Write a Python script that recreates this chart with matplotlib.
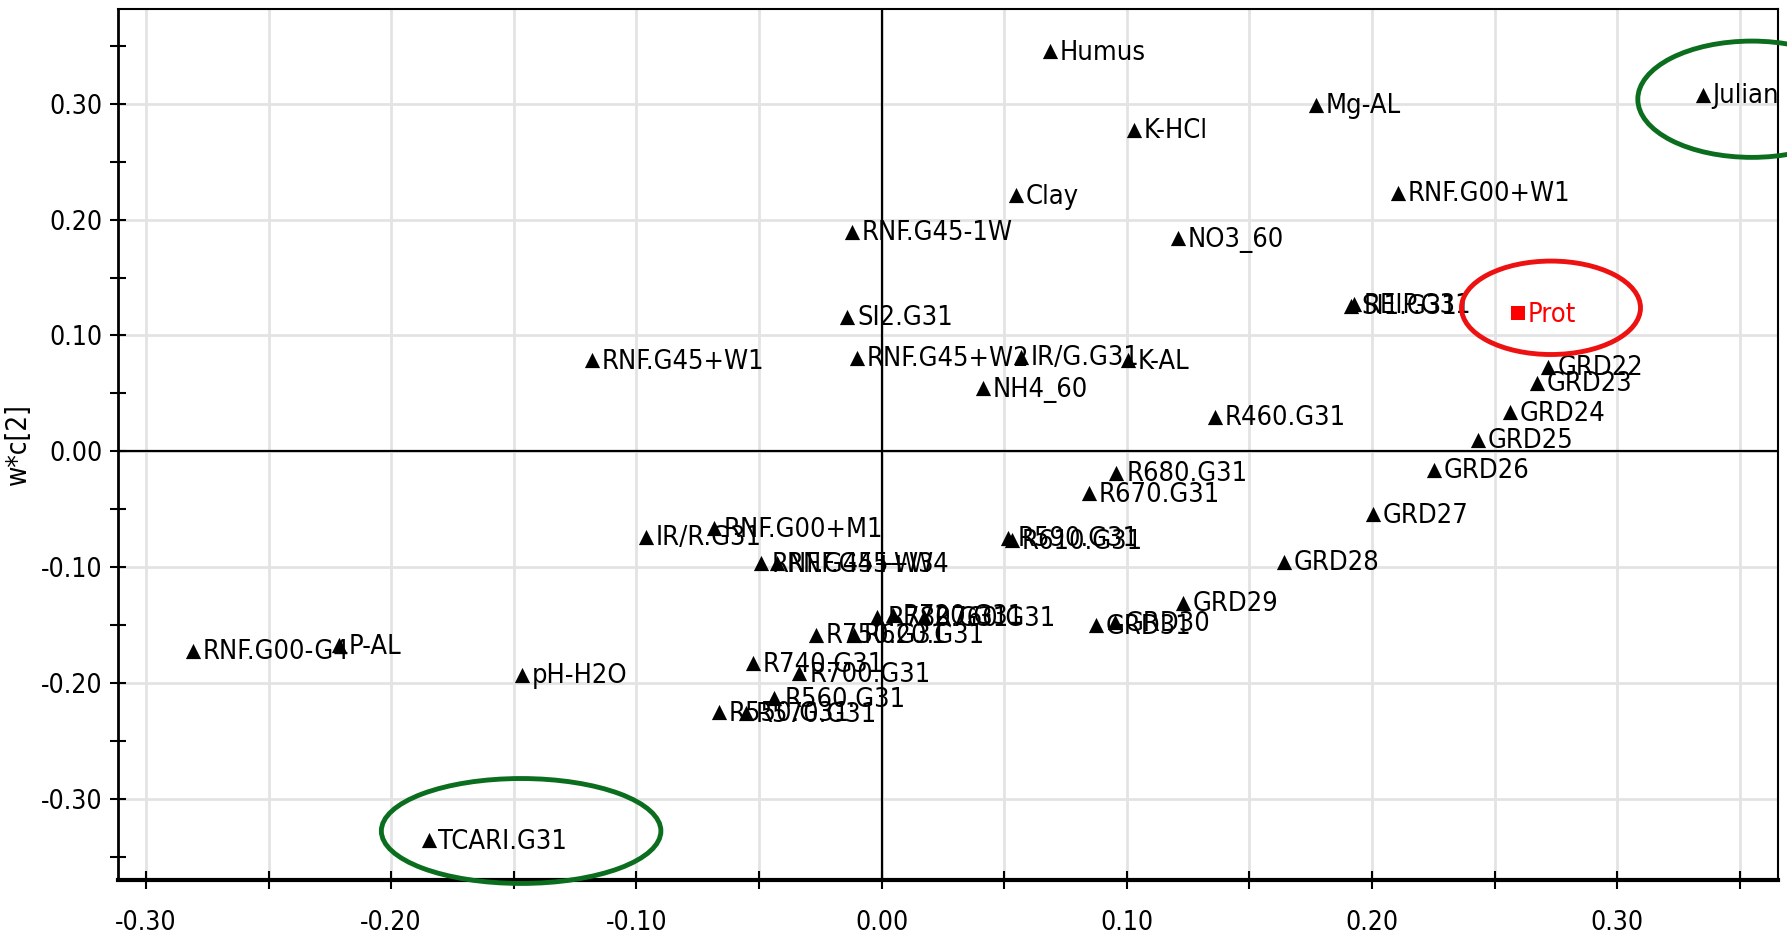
import matplotlib
matplotlib.use("Agg")
import matplotlib.pyplot as plt
from matplotlib.patches import Ellipse
from matplotlib.ticker import MultipleLocator, FormatStrFormatter
from matplotlib import font_manager
from matplotlib.font_manager import FontProperties

# ---------------- data ----------------
labels = [
    "Humus", "Mg-AL", "K-HCl", "Julian", "Clay", "RNF.G00+W1", "RNF.G45-1W",
    "NO3_60", "SI2.G31", "SI1.G31", "REIP.G31", "RNF.G45+W1", "RNF.G45+W2",
    "IR/G.G31", "K-AL", "NH4_60", "R460.G31", "GRD22", "GRD23", "GRD24",
    "GRD25", "GRD26", "R680.G31", "R670.G31", "GRD27", "R590.G31", "R610.G31",
    "GRD28", "GRD29", "GRD31", "GRD30", "IR/R.G31", "RNF.G00+M1",
    "RNF.G45+W3", "RNF.G45+W4", "R780.G31", "R720.G31", "R760.G31",
    "R750.G31", "R620.G31", "R740.G31", "R700.G31", "R560.G31", "R550.G31",
    "R570.G31", "pH-H2O", "P-AL", "RNF.G00-G4", "TCARI.G31",
]
x_vals = [
    0.0688, 0.1772, 0.1028, 0.3349, 0.0549, 0.2107, -0.0119,
    0.1207, -0.0139, 0.1915, 0.1925, -0.1181, -0.0102,
    0.0570, 0.1005, 0.0412, 0.1358, 0.2717, 0.2673, 0.2563,
    0.2433, 0.2251, 0.0958, 0.0845, 0.2005, 0.0514, 0.0533,
    0.1642, 0.1228, 0.0876, 0.0950, -0.0960, -0.0682,
    -0.0490, -0.0425, -0.0017, 0.0045, 0.0175,
    -0.0266, -0.0112, -0.0523, -0.0335, -0.0437, -0.0662,
    -0.0552, -0.1465, -0.2214, -0.2809, -0.1847,
]
y_vals = [
    0.345, 0.299, 0.2773, 0.3078, 0.2210, 0.2232, 0.1893,
    0.1840, 0.1160, 0.1255, 0.1270, 0.0787, 0.0806,
    0.0816, 0.0787, 0.0545, 0.0298, 0.0728, 0.0590, 0.0339,
    0.0098, -0.0157, -0.0187, -0.0362, -0.0541, -0.0747, -0.0767,
    -0.0954, -0.1308, -0.1499, -0.1473, -0.0738, -0.0664,
    -0.0964, -0.0964, -0.1430, -0.1412, -0.1430,
    -0.1583, -0.1583, -0.1829, -0.1913, -0.2129, -0.2249,
    -0.2258, -0.1927, -0.1672, -0.1721, -0.3353,
]
y_label_name = ["Prot"]
y_x = [0.2595]
y_y = [0.1193]

x_ticks = [-0.30, -0.20, -0.10, 0.00, 0.10, 0.20, 0.30]
y_ticks = [-0.30, -0.20, -0.10, 0.00, 0.10, 0.20, 0.30]

# highlight ellipses (center x, center y, width, height) in data units
ellipse_green = [(-0.147, -0.3274, 0.114, 0.0905), (0.3549, 0.3038, 0.093, 0.1003)]
ellipse_red = [(0.2730, 0.1239, 0.073, 0.0806)]

# ---------------- fonts ----------------
narrow_path = None
narrow_rank = 99
for f in font_manager.fontManager.ttflist:
    nm = f.name
    st = str(f.stretch).lower()
    fn = f.fname.lower()
    if f.style != "normal" or f.weight not in (400, "normal", "regular"):
        continue
    if "bold" in fn or "italic" in fn or "oblique" in fn or "mono" in fn or "serif" in nm.lower() and "sans" not in nm.lower():
        continue
    rank = None
    if "Liberation Sans Narrow" in nm or "liberationsansnarrow" in fn.replace("-", ""):
        rank = 0
    elif "Arial Narrow" in nm:
        rank = 1
    elif ("condensed" in st or "condensed" in fn) and "sans" in nm.lower():
        rank = 2
    elif "narrow" in nm.lower() or "condensed" in nm.lower():
        rank = 3
    if rank is not None and rank < narrow_rank:
        narrow_rank = rank
        narrow_path = f.fname

plt.rcParams["font.family"] = ["Liberation Sans", "DejaVu Sans"]
if narrow_path:
    lab_fp = FontProperties(fname=narrow_path, size=19.5)
    tick_fp = FontProperties(fname=narrow_path, size=19)
    ylab_fp = FontProperties(fname=narrow_path, size=20)
else:
    lab_fp = FontProperties(family="Liberation Sans", size=19)
    tick_fp = FontProperties(family="Liberation Sans", size=18)
    ylab_fp = FontProperties(family="Liberation Sans", size=17)

fig = plt.figure(figsize=(17.87, 9.41), dpi=100)
ax = fig.add_axes([0.0663, 0.0648, 0.9287, 0.9256])

ax.set_xlim(-0.3112, 0.3656)
ax.set_ylim(-0.3697, 0.3816)

ax.xaxis.set_minor_locator(MultipleLocator(0.05))
ax.yaxis.set_minor_locator(MultipleLocator(0.05))
ax.set_xticks(x_ticks)
ax.set_yticks(y_ticks)
ax.xaxis.set_major_formatter(FormatStrFormatter("%.2f"))
ax.yaxis.set_major_formatter(FormatStrFormatter("%.2f"))
ax.grid(True, which="major", axis="both", color="#e3e3e3", lw=2, zorder=0)
ax.grid(True, which="minor", axis="x", color="#e3e3e3", lw=2, zorder=0)
ax.set_axisbelow(True)

ax.axhline(0, color="black", lw=1.6, zorder=1)
ax.axvline(0, color="black", lw=1.6, zorder=1)

for s in ax.spines.values():
    s.set_linewidth(1.5)
ax.spines["bottom"].set_linewidth(3)
ax.spines["left"].set_linewidth(2)

ax.tick_params(axis="x", which="both", direction="inout", length=13, width=1.5, pad=15)
ax.tick_params(axis="y", which="both", direction="inout", length=11, width=1.5, pad=6)
for t in ax.get_xticklabels() + ax.get_yticklabels():
    t.set_fontproperties(tick_fp)

ax.set_ylabel("w*c[2]", fontproperties=ylab_fp)
ax.yaxis.set_label_coords(-0.052, 0.5)

# points
ax.scatter(x_vals, y_vals, marker="^", s=120, color="black", zorder=3, linewidths=0)
for lx, ly, lab in zip(x_vals, y_vals, labels):
    ax.annotate(lab, (lx, ly), xytext=(7, -1), textcoords="offset points",
                ha="left", va="center", fontproperties=lab_fp, color="black", zorder=4)

ax.scatter(y_x, y_y, marker="s", s=90, color="#ff0000", zorder=3, linewidths=0)
for lx, ly, lab in zip(y_x, y_y, y_label_name):
    ax.annotate(lab, (lx, ly), xytext=(7, -1), textcoords="offset points",
                ha="left", va="center", fontproperties=lab_fp, color="#ff0000", zorder=4)

for cx, cy, w, h in ellipse_green:
    ax.add_patch(Ellipse((cx, cy), w, h, fill=False, ec="#0a6e1e", lw=3.5,
                         clip_on=False, zorder=5))
for cx, cy, w, h in ellipse_red:
    ax.add_patch(Ellipse((cx, cy), w, h, fill=False, ec="#ee1111", lw=3.5,
                         clip_on=False, zorder=5))

fig.savefig("out.png", dpi=100)
